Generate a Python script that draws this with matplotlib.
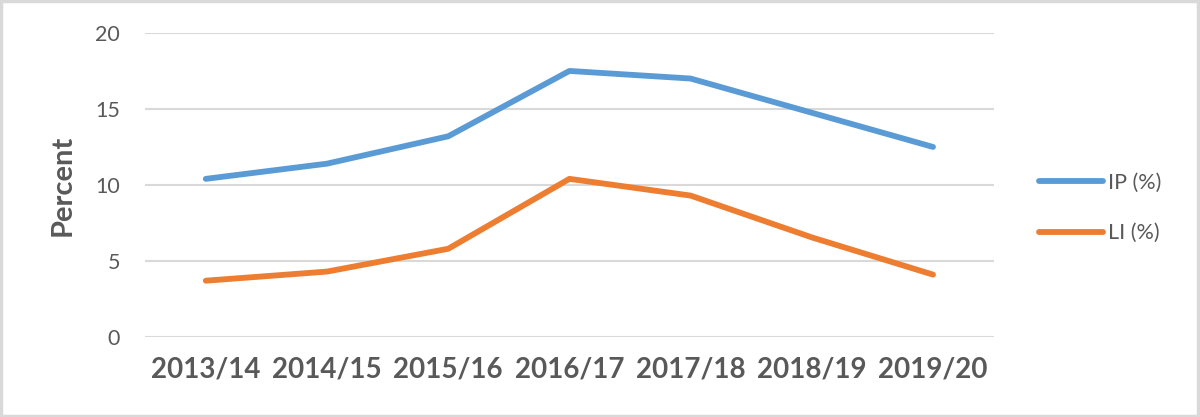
import matplotlib
matplotlib.use('Agg')
import matplotlib.pyplot as plt
from matplotlib.patches import Rectangle

# values
years = ['2013/14', '2014/15', '2015/16', '2016/17', '2017/18', '2018/19', '2019/20']
ip_pct = [10.4, 11.4, 13.2, 17.5, 17.0, 14.75, 12.5]
li_pct = [3.7, 4.3, 5.8, 10.4, 9.3, 6.55, 4.1]

plt.rcParams['font.family'] = ['Lato', 'DejaVu Sans']

fig = plt.figure(figsize=(12, 4.17), dpi=100)
ax = fig.add_axes([0.121, 0.192, 0.707, 0.729])

x = range(len(years))
ax.plot(x, ip_pct, color='#5B9BD5', lw=4.2, solid_capstyle='round', label='IP (%)')
ax.plot(x, li_pct, color='#ED7D31', lw=4.2, solid_capstyle='round', label='LI (%)')

ax.set_xlim(-0.5, len(years) - 0.5)
ax.set_ylim(0, 20)
ax.set_yticks([0, 5, 10, 15, 20])
ax.set_xticks(list(x))
ax.set_xticklabels(years, fontsize=20, fontweight='bold', color='#595959')
ax.tick_params(axis='y', labelsize=15.5, labelcolor='#595959', length=0, pad=18)
ax.tick_params(axis='x', length=0, pad=14)
ax.grid(axis='y', color='#D9D9D9', lw=1.5)
ax.set_axisbelow(True)
for s in ax.spines.values():
    s.set_visible(False)

ax.set_ylabel('Percent', fontsize=21, fontweight='bold', color='#595959', labelpad=14)

leg = ax.legend(loc='center left', bbox_to_anchor=(1.031, 0.424), frameon=False,
                fontsize=15.5, handlelength=2.95, handletextpad=0.25, labelspacing=1.4)
for t in leg.get_texts():
    t.set_color('#595959')

fig.patches.append(Rectangle((0.001, 0.002), 0.997, 0.995, transform=fig.transFigure,
                             fill=False, edgecolor='#D9D9D9', lw=2.5))

fig.savefig('out.png', dpi=100)
